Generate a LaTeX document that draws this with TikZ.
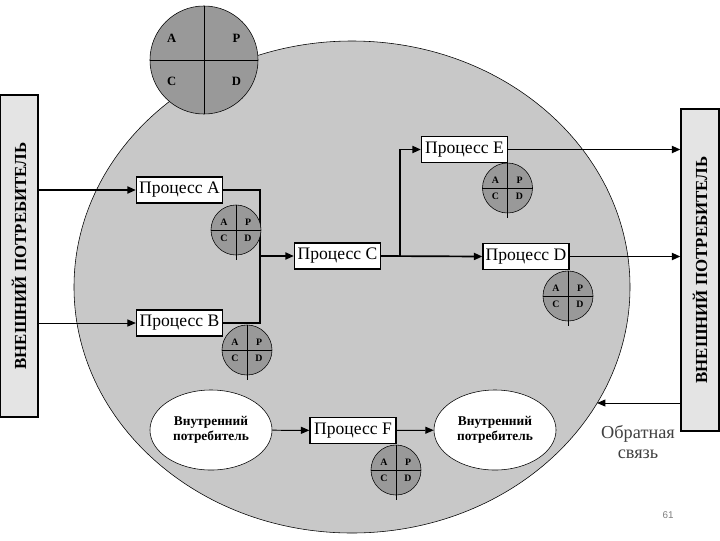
\documentclass[tikz,border=0pt]{standalone}
\usepackage{fontspec}
\setmainfont{Liberation Serif}
\newfontfamily\pagenumfont{Liberation Sans}
\usetikzlibrary{arrows.meta,shapes.geometric}

\definecolor{fieldgray}{RGB}{200,200,200}
\definecolor{pdcagray}{RGB}{153,153,153}
\definecolor{custgray}{RGB}{228,228,228}
\definecolor{notegray}{RGB}{64,64,64}

\tikzset{procbox/.style={draw,line width=0.9pt,fill=white,
    minimum width=2.15cm,minimum height=0.65cm,inner sep=1pt,
    font=\fontsize{12.5}{14}\selectfont}}
\tikzset{custbox/.style={draw,line width=0.9pt,fill=custgray,rotate=90,
    minimum width=8.05cm,minimum height=0.95cm,inner sep=0pt,
    font=\bfseries\fontsize{12}{14}\selectfont}}
\tikzset{innercust/.style={ellipse,draw,thin,fill=white,
    minimum width=3.05cm,minimum height=2cm,inner sep=0pt,align=center,
    font=\bfseries\fontsize{9.5}{11}\selectfont}}
\tikzset{pdcabase/.style={circle,draw,thin,fill=pdcagray,inner sep=0pt}}
\tikzset{pdcaletter/.style={inner sep=0pt,font=\bfseries\fontsize{#1}{#1}\selectfont},
    pdcaletter/.default=7}
\tikzset{flowline/.style={line width=1.2pt,-{Triangle[length=6pt,width=5pt]}}}
\tikzset{flowthin/.style={line width=0.7pt,-{Triangle[length=6pt,width=5pt]}}}
\tikzset{joinline/.style={line width=1.2pt}}

%   PDCA circle: name, centre, diameter, letter size, tail below,
%   horizontal and vertical letter offset (parts of the diameter)
\newcommand{\pdcadisc}[7]{%
    \node[pdcabase,minimum size=#3] (#1) at (#2) {};
    \draw[thin] (#1.north) -- ([yshift=-#5]#1.south);
    \draw[thin] (#1.west) -- (#1.east);
    \node[pdcaletter=#4] (#1a) at ([xshift=-#6*#3,yshift=#7*#3]#1.center) {A};
    \node[pdcaletter=#4] (#1p) at ([xshift=#6*#3,yshift=#7*#3]#1.center) {P};
    \node[pdcaletter=#4] (#1c) at ([xshift=-#6*#3,yshift=-#7*#3]#1.center) {C};
    \node[pdcaletter=#4] (#1d) at ([xshift=#6*#3,yshift=-#7*#3]#1.center) {D};
}

\begin{document}
\begin{tikzpicture}[x=0.025cm,y=-0.025cm]
\useasboundingbox (0,0) rectangle (720,540);

%   組織（大きな楕円）
\draw[thin,fill=fieldgray] (352,287) ellipse [x radius=278, y radius=246];

%   外部の消費者
\node[custbox] (extL) at (19,256) {ВНЕШНИЙ ПОТРЕБИТЕЛЬ};
\node[custbox] (extR) at (700,270) {ВНЕШНИЙ ПОТРЕБИТЕЛЬ};

%   プロセス
\node[procbox] (procA) at (179.5,190) {Процесс A};
\node[procbox] (procB) at (179.5,323) {Процесс B};
\node[procbox] (procC) at (337.5,256) {Процесс C};
\node[procbox] (procE) at (464.5,149.5) {Процесс E};
\node[procbox] (procD) at (526,256.5) {Процесс D};
\node[procbox] (procF) at (353,430.5) {Процесс F};

%   内部の消費者
\node[innercust] (innerL) at (211,430) {Внутренний\\потребитель};
\node[innercust] (innerR) at (495,430) {Внутренний\\потребитель};

%   分岐点
\coordinate (joinAB) at (260,256);
\coordinate (joinCE) at (400,256);
\coordinate (fbin) at (597,403);

%   流れ
\draw[flowline] (extL.south |- procA.west) -- (procA.west);
\draw[flowthin] (extL.south |- procB.west) -- (procB.west);
\draw[joinline] (procA.east) -| (joinAB);
\draw[joinline] (procB.east) -| (joinAB);
\draw[flowline] (joinAB) -- (procC.west);
\draw[flowline] (procC.east) -- (procD.west);
\draw[flowline] (joinCE) |- (procE.west);
\draw[flowline] (procE.east) -- (extR.north |- procE.east);
\draw[flowline] (procD.east) -- (extR.north |- procD.east);
\draw[flowthin] (extR.north |- fbin) -- (fbin);
\draw[flowthin] (innerL) -- (procF);
\draw[flowthin] (procF) -- (innerR);

%   PDCA
\pdcadisc{pdcaTop}{204,60}{2.7cm}{9}{0pt}{0.3}{0.2}
\pdcadisc{pdcaA}{236,230}{1.25cm}{7}{3pt}{0.24}{0.16}
\pdcadisc{pdcaB}{247,350}{1.25cm}{7}{3pt}{0.24}{0.16}
\pdcadisc{pdcaE}{507.5,188}{1.25cm}{7}{3pt}{0.24}{0.16}
\pdcadisc{pdcaD}{568,296}{1.25cm}{7}{3pt}{0.24}{0.16}
\pdcadisc{pdcaF}{396,470}{1.25cm}{7}{3pt}{0.24}{0.16}

%   注記
\node[font=\fontsize{13}{14}\selectfont,text=notegray,align=center]
    (fbnote) at (638,442) {Обратная\\связь};
\node[font=\pagenumfont\fontsize{7}{8}\selectfont,text=gray]
    (pagenum) at (668,515) {61};

\end{tikzpicture}
\end{document}
